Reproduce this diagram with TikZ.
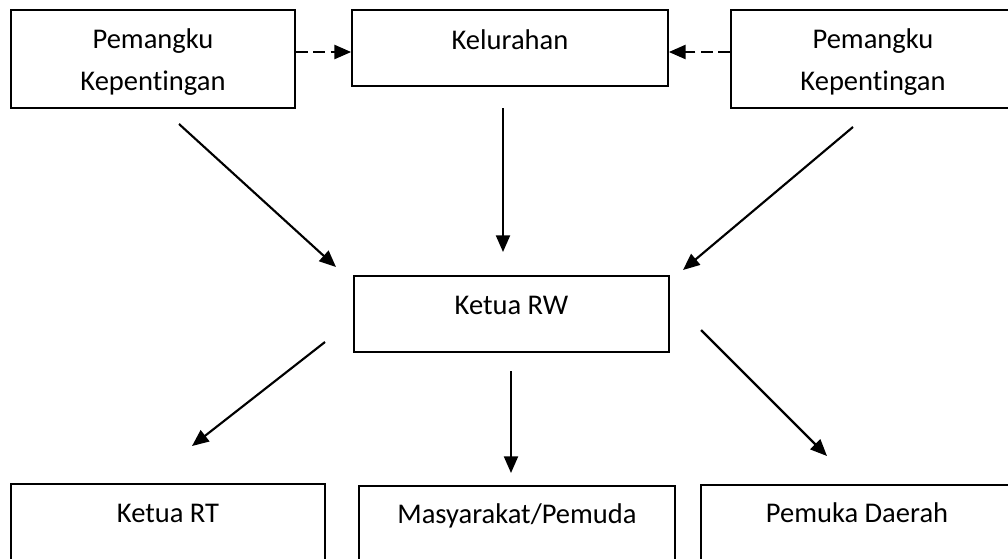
\documentclass[tikz,border=0pt]{standalone}
\usepackage{fontspec}
\setmainfont[RawFeature={-liga;-clig;-calt;-dlig}]{Carlito}
\usetikzlibrary{arrows.meta}
\begin{document}
\begin{tikzpicture}[x=0.75pt,y=-0.75pt,
  frame/.style={draw, line width=1.3pt, inner sep=0pt},
  lbl/.style={font=\fontsize{21.4pt}{31.5pt}\selectfont, inner sep=0pt, anchor=base, align=center},
  arr/.style={line width=1.6pt, -{Triangle[length=12.5pt,width=10.5pt]}},
  dasharr/.style={arr, dash pattern=on 9pt off 4pt}]
\useasboundingbox (0,0) rectangle (1008,558);
\clip (0,0) rectangle (1008,558);
% boxes
\node[frame, minimum width=213pt, minimum height=73.5pt] (pk1) at (153,59) {};
\node[frame, minimum width=237pt, minimum height=57pt] (kel) at (510,48) {};
\node[frame, minimum width=213pt, minimum height=73.5pt] (pk2) at (873,59) {};
\node[frame, minimum width=236.25pt, minimum height=57pt] (rw) at (511.5,314) {};
\node[frame, minimum width=235.5pt, minimum height=117pt] (rt) at (168,562) {};
\node[frame, minimum width=237pt, minimum height=115.5pt] (ms) at (517,563) {};
\node[frame, minimum width=234pt, minimum height=116.25pt] (pd) at (857,562.5) {};
% labels
\node[lbl] (pk1t) at (153,90) {Pemangku\\Kepentingan};
\node[lbl] (kelt) at (510,49) {Kelurahan};
\node[lbl] (pk2t) at (873,90) {Pemangku\\Kepentingan};
\node[lbl] (rwt) at (511.5,314) {Ketua RW};
\node[lbl] (rtt) at (168,522) {Ketua RT};
\node[lbl] (mst) at (517,523) {Masyarakat/Pemuda};
\node[lbl] (pdt) at (857,522) {Pemuka Daerah};
% dashed connectors
\coordinate (dl) at (0,52);
\draw[dasharr] (pk1.east |- dl) -- (kel.west |- dl);
\draw[dasharr] (pk2.west |- dl) -- (kel.east |- dl);
% free-floating arrows
\coordinate (a1s) at (179,124); \coordinate (a1e) at (336,267);
\coordinate (a2s) at (503,108); \coordinate (a2e) at (503,252);
\coordinate (a3s) at (853,127); \coordinate (a3e) at (683,270);
\coordinate (a4s) at (325,342); \coordinate (a4e) at (192,446);
\coordinate (a5s) at (511,371); \coordinate (a5e) at (511,473);
\coordinate (a6s) at (701,330); \coordinate (a6e) at (827,456);
\draw[arr] (a1s) -- (a1e);
\draw[arr] (a2s) -- (a2e);
\draw[arr] (a3s) -- (a3e);
\draw[arr] (a4s) -- (a4e);
\draw[arr] (a5s) -- (a5e);
\draw[arr] (a6s) -- (a6e);
\end{tikzpicture}
\end{document}
